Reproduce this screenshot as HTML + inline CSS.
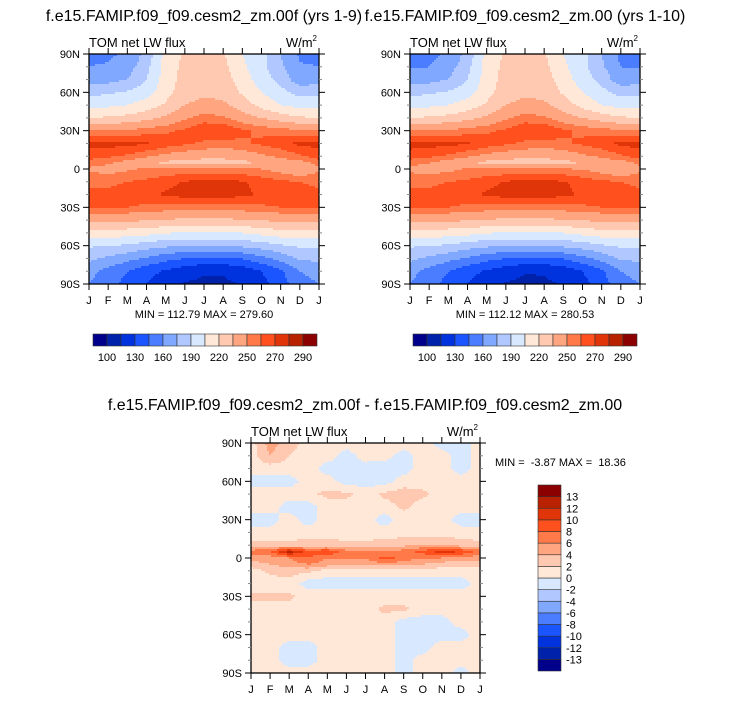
<!DOCTYPE html>
<html><head><meta charset="utf-8">
<style>
body{margin:0;background:#fff;}
svg text{font-family:"Liberation Sans",sans-serif;fill:#000;white-space:pre;}
</style></head>
<body>
<svg id="fig" width="733" height="701" viewBox="0 0 733 701" xmlns="http://www.w3.org/2000/svg"></svg>
<script>
// ---------- data ----------
const months = ["J","F","M","A","M","J","J","A","S","O","N","D","J"];
const latsTop = [90,80,70,60,50,40,30,20,10,5,0,-10,-20,-30,-40,-50,-60,-70,-80,-90];
const fieldA = [
[158,158,162,180,210,222,224,222,205,195,175,158,158],
[160,161,168,185,212,224,226,224,208,195,178,161,160],
[170,170,175,190,212,226,230,228,212,198,185,165,170],
[185,188,192,198,215,228,232,230,218,205,195,185,185],
[200,202,205,212,222,235,240,238,228,215,205,200,200],
[220,222,225,230,238,248,255,252,242,235,228,222,220],
[250,250,252,255,258,262,268,270,262,258,255,252,250],
[273,274,273,271,266,262,258,256,258,262,266,273,273],
[265,262,258,252,246,242,240,240,242,248,252,258,265],
[255,252,245,238,232,228,228,228,230,238,245,245,255],
[248,245,248,252,253,252,252,252,252,250,245,238,248],
[258,258,260,262,266,271,272,272,271,266,262,260,258],
[262,262,264,266,272,274,275,274,273,268,265,263,262],
[262,262,260,258,256,255,255,255,256,258,260,262,262],
[240,240,238,236,234,232,232,232,234,236,238,240,240],
[215,214,212,210,206,203,203,203,205,210,214,216,215],
[192,190,188,182,178,176,176,176,178,182,188,192,192],
[178,172,165,158,150,145,142,142,146,155,165,178,178],
[165,155,145,135,128,120,116,116,120,130,142,160,165],
[160,150,140,130,122,114,113,113,116,125,138,155,160]];
const fieldB = [
[155,156,162,180,210,222,224,222,205,195,175,156,155],
[158,160,168,185,212,224,226,224,208,195,178,160,158],
[170,170,175,190,212,226,230,228,212,198,185,165,170],
[185,188,192,198,215,228,232,230,218,205,195,185,185],
[200,202,205,212,222,235,240,238,228,215,205,200,200],
[220,222,225,230,238,248,255,252,242,235,228,222,220],
[250,250,252,255,258,262,268,270,262,258,255,252,250],
[274,274,273,271,266,262,258,256,258,262,266,273,274],
[265,262,258,252,246,242,240,240,242,248,252,258,265],
[254,251,244,237,231,227,227,227,229,237,244,244,254],
[247,244,247,251,252,251,251,251,251,249,244,237,247],
[258,258,260,262,266,271,272,272,271,266,262,260,258],
[262,262,264,266,272,274,276,274,273,268,265,263,262],
[262,262,260,258,256,255,255,255,256,258,260,262,262],
[240,240,238,236,234,232,232,232,234,236,238,240,240],
[215,214,212,210,206,203,203,203,205,210,214,216,215],
[192,190,188,182,178,176,176,176,178,182,188,192,192],
[178,172,165,158,150,145,142,142,146,155,165,178,178],
[165,155,145,135,128,120,116,116,120,130,142,160,165],
[160,150,140,130,122,114,112,113,116,125,138,155,160]];
const latsDiff = [90,80,70,60,50,40,30,20,10,5,0,-5,-10,-20,-30,-40,-50,-60,-70,-80,-90];
const fieldDiff = [
[1,5,3,1,1,1,1,1,1,1,-1,-1,1],
[1,4,2,1,1,-1,1,1,-1,1,1,-1,1],
[1,1,1,1,-1,-1,-1,-1.5,-1,1,1,-1,1],
[-1,-1,-1,1,1,-1,-1,-1,1,1,1,1,1],
[1,1,1,1.5,2.5,2.5,1,2.5,3,2.5,1,1,1],
[1,1,-1,-1,1,1,1,1,2.5,1,1,1,1],
[-1,-1,1,-1,1,1,1,-1,1,1,1,-1,-1],
[1,1,1,1,1,1,1,1,1,1,1,1,1],
[2.5,2.5,2.5,3,3,2.5,2.5,3,3.5,4,4,3,2.5],
[7,8,13,9,10,7,6,6,7,9,11,10,7],
[5,5,6,8,6,6,6,9,7,6,6,5,5],
[3,4,5,6,5,5,5,5,5,4,3,2.5,3],
[1,2.5,3,2.5,1,1,1,1,1,1,1,1,1],
[1,1,1,-1,-1,-1,-1,-1,-1,-1,-1,-1,1],
[2.5,2.5,2.5,1,1,1,1,1,1,1,1,1,1],
[1,1,1,1,1,1,1,2.5,2.5,1,1,1,1],
[1,1,1,1,1,1,1,1,-1,-1,-1,1,1],
[1,1,1,1,1,1,1,1,-1,-1,-1,-1,1],
[1,1,-1,-1,1,1,1,1,-1,-1,1,1,1],
[1,1,-1,-1,1,1,1,1,-1,1,1,1,1],
[1,1,1,1,1,1,1,1,-1,1,1,-1,1]];
const levelsTop = [100,115,130,145,160,175,190,205,220,235,250,260,270,280,290];
const levelLabelsTop = ["100","130","160","190","220","250","270","290"];
const levelsDiff = [-13,-12,-10,-8,-6,-4,-2,0,2,4,6,8,10,12,13];
const yTickLabels = ["90N","60N","30N","0","30S","60S","90S"];
const colors = ["#00008b","#0022aa","#0033dd","#1a55ff","#4a7dff","#80a8ff","#b0c8ff","#d8e8ff","#ffe8d8","#ffc8b0","#ffa680","#ff7a48","#ff501e","#e03508","#b82200","#8b0000"];

// ---------- helpers ----------
const svg = document.getElementById('fig');
const NS = "http://www.w3.org/2000/svg";
function el(tag, attrs, parent){const e=document.createElementNS(NS,tag);for(const k in attrs)e.setAttribute(k,attrs[k]);(parent||svg).appendChild(e);return e;}
function txt(s,x,y,size,anchor,parent){const t=el('text',{x:x,y:y,'font-size':size,'text-anchor':anchor||'start'},parent);t.textContent=s;return t;}
function colorFor(v,levels){let i=0;while(i<levels.length&&v>=levels[i])i++;return colors[i];}
function sample(field,lats,m,lat){
  let r=0;while(r<lats.length-2&&lat<lats[r+1])r++;
  let t=(lats[r]-lat)/(lats[r]-lats[r+1]);t=Math.max(0,Math.min(1,t));
  m=Math.max(0,Math.min(12,m));
  let c=Math.min(Math.floor(m),11);const u=m-c;
  const a=field[r][c]*(1-u)+field[r][c+1]*u;
  const b=field[r+1][c]*(1-u)+field[r+1][c+1]*u;
  return a*(1-t)+b*t;
}
function panel(p){
  const g=el('g',{});
  
  
  const W=p.x1-p.x0,H=p.y1-p.y0,step=2;
  const xs=m=>p.x0+m/12*W, ys=lat=>p.y0+(90-lat)/180*H;
  const cg=el('g',{'shape-rendering':'crispEdges'},g);
  
  
  for(let py=0;py<H;py+=step){
    const lat=90-Math.min(py+step/2,H)/H*180;
    const hh=Math.min(step,H-py)+0.3;
    let runStart=0,runCol=null;
    for(let px=0;;px+=step){
      const done=px>=W;
      let col=null;
      if(!done){const m=Math.min(px+step/2,W)/W*12;col=colorFor(sample(p.field,p.lats,m,lat),p.levels);}
      if(col!==runCol){
        if(runCol!==null){el('rect',{x:p.x0+runStart,y:p.y0+py,width:Math.min(px,W)-runStart,height:hh,fill:runCol},cg);}
        runStart=px;runCol=col;
      }
      if(done)break;
    }
  }
  el('rect',{x:p.x0,y:p.y0,width:W,height:H,fill:'none',stroke:'#000','stroke-width':1.3},g);
  for(let i=0;i<=18;i++){
    const y=ys(90-i*10),major=i%3===0,L=major?6:3;
    el('line',{x1:p.x0-L,y1:y,x2:p.x0,y2:y,stroke:major?'#000':'#888','stroke-width':1},g);
    el('line',{x1:p.x1,y1:y,x2:p.x1+L,y2:y,stroke:major?'#000':'#888','stroke-width':1},g);
  }
  yTickLabels.forEach((s,i)=>{const t=txt(s,p.x0-9,ys(90-i*30)+4,11,'end',g);
    
    });
  months.forEach((s,i)=>{const x=xs(i);
    el('line',{x1:x,y1:p.y1,x2:x,y2:p.y1+6,stroke:'#000'},g);
    el('line',{x1:x,y1:p.y0-6,x2:x,y2:p.y0,stroke:'#000'},g);
    const t=txt(s,x,p.y1+20,11,'middle',g);
    
    });
  const l=txt("TOM net LW flux",p.x0,p.y0-7,13,'start',g);
  
  
  const u=el('text',{x:p.x1-2,y:p.y0-7,'font-size':13,'text-anchor':'end'},g);
  u.innerHTML='W/m<tspan font-size="8" dy="-6">2</tspan>';
  
  
  return g;
}
function hbar(x0,y0,w,h,name){
  const g=el('g',{});
  
  
  const bw=w/colors.length;
  colors.forEach((c,i)=>{const r=el('rect',{x:x0+i*bw,y:y0,width:bw,height:h,fill:c,stroke:'#333','stroke-width':0.6},g);
    
    });
  levelLabelsTop.forEach((s,i)=>{const t=txt(s,x0+(1+2*i)*bw,y0+h+15,11,'middle',g);
    
    });
}
[[204,"f.e15.FAMIP.f09_f09.cesm2_zm.00f (yrs 1-9)"],[525,"f.e15.FAMIP.f09_f09.cesm2_zm.00 (yrs 1-10)"],[365,"f.e15.FAMIP.f09_f09.cesm2_zm.00f - f.e15.FAMIP.f09_f09.cesm2_zm.00"]].forEach((d,i)=>{
  const t=txt(d[1],d[0],i<2?21:410,16,'middle');
  
  
});
panel({name:'panel-left',x0:89,x1:319,y0:54,y1:284,field:fieldA,lats:latsTop,levels:levelsTop});
panel({name:'panel-right',x0:410,x1:640,y0:54,y1:284,field:fieldB,lats:latsTop,levels:levelsTop});
panel({name:'panel-diff',x0:251,x1:480,y0:443,y1:673,field:fieldDiff,lats:latsDiff,levels:levelsDiff});
let m1=txt("MIN = 112.79 MAX = 279.60",204,318,11,'middle');


let m2=txt("MIN = 112.12 MAX = 280.53",525,318,11,'middle');


let m3=txt("MIN =  -3.87 MAX =  18.36",495,466,11,'start');


hbar(93,334,224,12,'colorbar-left');
hbar(413,334,224,12,'colorbar-right');
(function(){
  const g=el('g',{});
  
  
  const x0=538,y0=485,w=23,h=186,bh=h/colors.length;
  colors.forEach((c,i)=>{const r=el('rect',{x:x0,y:y0+h-(i+1)*bh,width:w,height:bh,fill:c,stroke:'#333','stroke-width':0.6},g);
    
    });
  levelsDiff.forEach((v,i)=>{const t=txt(String(v),x0+w+5,y0+h-(i+1)*bh+4,11,'start',g);
    
    });
})();
</script>
</body></html>
